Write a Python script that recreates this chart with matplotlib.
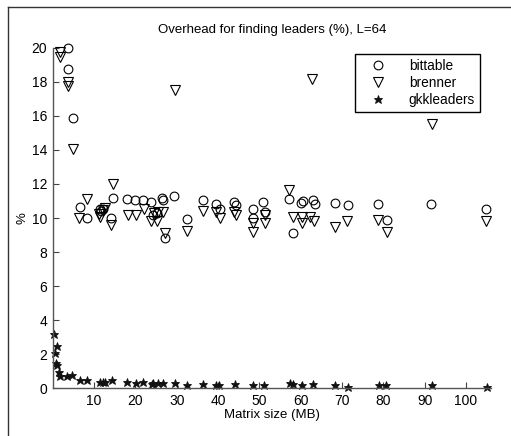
import matplotlib
matplotlib.use("Agg")
import matplotlib.pyplot as plt
from matplotlib.lines import Line2D

plt.rcParams['font.family'] = ['Liberation Sans', 'DejaVu Sans']

# bittable (circles)
bit_x = [3.8, 3.8, 5.0, 6.6, 8.4, 11.4, 11.8, 12.2, 14.0, 14.5, 18.1, 20.0, 21.9,
         23.9, 24.3, 25.2, 26.5, 26.8, 27.2, 29.4, 32.6, 36.4, 39.5, 40.6, 43.9,
         44.4, 48.5, 48.5, 51.0, 51.4, 57.2, 58.1, 60.0, 60.6, 63.0, 63.5, 68.3,
         71.4, 78.8, 80.8, 91.5, 104.9]
bit_y = [20.0, 18.75, 15.9, 10.65, 10.0, 10.5, 10.4, 10.55, 10.0, 11.2, 11.1, 11.05,
         11.05, 10.95, 10.2, 10.3, 11.2, 11.05, 8.85, 11.3, 9.95, 11.05, 10.85, 10.55,
         10.95, 10.75, 10.55, 10.0, 10.95, 10.35, 11.1, 9.1, 10.9, 11.0, 11.05, 10.85,
         10.9, 10.75, 10.8, 9.9, 10.85, 10.5]

# brenner (triangles)
bren_x = [1.8, 1.8, 3.8, 3.8, 4.8, 6.4, 8.4, 11.3, 11.4, 12.2, 12.7, 14.0, 14.5,
          18.3, 20.2, 22.1, 23.9, 24.6, 25.2, 25.5, 26.8, 27.2, 29.6, 32.6, 36.4,
          39.5, 40.6, 43.9, 44.4, 48.5, 48.5, 51.4, 51.4, 57.2, 58.1, 60.2, 60.2,
          62.3, 62.7, 63.2, 68.3, 71.3, 78.8, 80.8, 91.7, 104.9]
bren_y = [19.75, 19.45, 18.0, 17.75, 14.05, 10.0, 11.1, 10.25, 10.05, 10.45, 10.6,
          9.6, 12.0, 10.15, 10.15, 10.55, 9.85, 10.3, 9.85, 10.35, 10.35, 9.1, 17.55,
          9.25, 10.4, 10.35, 10.0, 10.35, 10.2, 9.7, 9.2, 10.2, 9.7, 11.65, 10.05,
          10.05, 9.7, 10.05, 18.15, 9.85, 9.5, 9.8, 9.9, 9.2, 15.55, 9.8]

# gkkleaders (stars)
gkk_x = [0.4, 1.0, 0.55, 0.7, 1.0, 1.5, 1.8, 3.4, 4.7, 6.6, 8.2, 11.4, 12.2, 12.6,
         14.3, 18.1, 20.1, 21.9, 24.0, 24.3, 25.5, 26.8, 29.6, 32.6, 36.4, 39.5,
         40.3, 44.1, 48.5, 51.1, 57.4, 58.2, 60.2, 63.1, 68.3, 71.5, 79.0, 80.6,
         91.7, 105.0]
gkk_y = [3.15, 2.5, 2.05, 1.45, 1.35, 0.95, 0.7, 0.7, 0.75, 0.45, 0.45, 0.35, 0.35,
         0.37, 0.5, 0.35, 0.3, 0.35, 0.25, 0.28, 0.3, 0.28, 0.27, 0.18, 0.22, 0.18,
         0.18, 0.22, 0.18, 0.18, 0.3, 0.22, 0.18, 0.22, 0.18, 0.08, 0.18, 0.18,
         0.18, 0.08]

fig = plt.figure(figsize=(5.11, 4.36), dpi=100)
ax = fig.add_axes([0.1031, 0.110, 0.8574, 0.780])

ax.plot(bit_x, bit_y, linestyle='none', marker='o', markersize=6.3,
        markerfacecolor='none', markeredgecolor='black', markeredgewidth=0.8,
        label='bittable', clip_on=False)
ax.plot(bren_x, bren_y, linestyle='none', marker='v', markersize=7.3,
        markerfacecolor='none', markeredgecolor='black', markeredgewidth=0.8,
        label='brenner', clip_on=False)
ax.plot(gkk_x, gkk_y, linestyle='none', marker='*', markersize=6.3,
        color='#111111', markeredgewidth=0.6, label='gkkleaders', clip_on=False)

ax.set_xlim(0, 106)
ax.set_ylim(0, 20)
ax.set_xticks(range(10, 101, 10))
ax.set_yticks(range(0, 21, 2))
ax.tick_params(direction='in', length=4, width=0.8, labelsize=10, color='#444444',
               pad=4)
for s in ['top', 'right']:
    ax.spines[s].set_visible(False)
for s in ['left', 'bottom']:
    ax.spines[s].set_color('#555555')
    ax.spines[s].set_linewidth(1.0)

ax.set_title("Overhead for finding leaders (%), L=64", fontsize=9.5, pad=11)
ax.set_xlabel("Matrix size (MB)", fontsize=9.5, labelpad=1)
ax.set_ylabel("%", fontsize=9.5, labelpad=2)

leg = ax.legend(loc='upper right', bbox_to_anchor=(0.975, 0.982), borderaxespad=0,
                fontsize=9.8, fancybox=False, edgecolor='black', framealpha=1,
                handletextpad=1.0, borderpad=0.35, labelspacing=0.22, handlelength=2.6)
leg.get_frame().set_linewidth(1.0)

# page frame (left and top edges)
fig.add_artist(Line2D([8/511, 8/511], [0, 1 - 7/436], transform=fig.transFigure,
                      color='#333333', linewidth=1))
fig.add_artist(Line2D([8/511, 1], [1 - 7/436, 1 - 7/436], transform=fig.transFigure,
                      color='#333333', linewidth=1))

fig.savefig('out.png', dpi=100)
